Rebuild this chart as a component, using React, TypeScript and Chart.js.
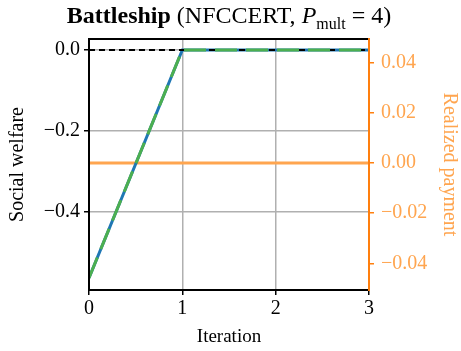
import React, { useEffect, useRef } from "react";
import { Chart, registerables } from "chart.js";

Chart.register(...registerables);

const iterations = [0, 1, 2, 3];
const socialWelfareBlue = [-0.563, 0, 0, 0];
const socialWelfareGreen = [-0.563, 0, 0, 0];
const optimumWelfare = [0, 0, 0, 0];
const realizedPayment = [0, 0, 0, 0];
const leftTicks = [-0.4, -0.2, 0.0];
const rightTicks = [-0.04, -0.02, 0.0, 0.02, 0.04];
const xTicks = [0, 1, 2, 3];

const FONT = "'Liberation Serif', 'DejaVu Serif', serif";
const ORANGE = "#ff7f0e";
const ORANGE_LIGHT = "#ffa54f";

const fmt = (v: number, d: number) => {
  const s = Math.abs(v).toFixed(d);
  return v < -1e-9 ? "\u2212" + s : s;
};

const framePlugin = {
  id: "frame",
  afterDatasetsDraw(chart: any) {
    const { ctx, chartArea } = chart;
    const { left, right, top, bottom } = chartArea;
    ctx.save();
    ctx.lineWidth = 2;
    ctx.strokeStyle = "#000";
    ctx.beginPath();
    ctx.moveTo(left, bottom);
    ctx.lineTo(left, top);
    ctx.lineTo(right, top);
    ctx.moveTo(left, bottom);
    ctx.lineTo(right, bottom);
    ctx.stroke();
    ctx.strokeStyle = ORANGE;
    ctx.beginPath();
    ctx.moveTo(right, top - 1);
    ctx.lineTo(right, bottom + 1);
    ctx.stroke();
    ctx.restore();
  },
};

export default function App() {
  const ref = useRef<HTMLCanvasElement>(null);
  useEffect(() => {
    const toPts = (ys: number[]) => iterations.map((x, i) => ({ x, y: ys[i] }));
    const chart = new Chart(ref.current!, {
      type: "line",
      data: {
        datasets: [
          {
            data: toPts(realizedPayment),
            yAxisID: "y1",
            borderColor: ORANGE_LIGHT,
            borderWidth: 3,
            pointRadius: 0,
            order: 4,
          },
          {
            data: toPts(socialWelfareBlue),
            yAxisID: "y",
            borderColor: "#1f77b4",
            borderWidth: 3,
            pointRadius: 0,
            order: 3,
          },
          {
            data: toPts(optimumWelfare),
            yAxisID: "y",
            borderColor: "#000",
            borderWidth: 2,
            borderDash: [6, 4],
            pointRadius: 0,
            order: 2,
          },
          {
            data: toPts(socialWelfareGreen),
            yAxisID: "y",
            borderColor: "#4caf50",
            borderWidth: 3,
            borderDash: [22, 9],
            pointRadius: 0,
            order: 1,
          },
        ],
      },
      options: {
        animation: false,
        responsive: false,
        layout: { padding: { top: 39, left: 0, right: 0, bottom: 0 } },
        plugins: { legend: { display: false }, tooltip: { enabled: false } },
        scales: {
          x: {
            type: "linear",
            min: 0,
            max: 3,
            afterBuildTicks: (s: any) => {
              s.ticks = xTicks.map((v) => ({ value: v }));
            },
            afterFit: (s: any) => {
              s.height = 61;
            },
            ticks: {
              color: "#000",
              font: { family: FONT, size: 20 },
              padding: 2,
              callback: (v: any) => String(v),
              maxRotation: 0,
            },
            grid: { color: "#b0b0b0", lineWidth: 1.5, tickLength: 5, tickColor: "#000" },
            border: { display: false },
            title: {
              display: true,
              text: "Iteration",
              color: "#000",
              font: { family: FONT, size: 19 },
              padding: { top: 0, bottom: 3 },
            },
          },
          y: {
            type: "linear",
            position: "left",
            min: -0.593,
            max: 0.027,
            afterBuildTicks: (s: any) => {
              s.ticks = leftTicks.map((v) => ({ value: v }));
            },
            afterFit: (s: any) => {
              s.width = 89;
            },
            ticks: {
              color: "#000",
              font: { family: FONT, size: 20 },
              padding: 4,
              callback: (v: any) => fmt(Number(v), 1),
            },
            grid: { color: "#b0b0b0", lineWidth: 1.5, tickLength: 5, tickColor: "#000" },
            border: { display: false },
            title: {
              display: true,
              text: "Social welfare",
              color: "#000",
              font: { family: FONT, size: 20 },
              padding: { top: 6, bottom: 0 },
            },
          },
          y1: {
            type: "linear",
            position: "right",
            min: -0.0506,
            max: 0.0494,
            afterBuildTicks: (s: any) => {
              s.ticks = rightTicks.map((v) => ({ value: v }));
            },
            afterFit: (s: any) => {
              s.width = 92;
            },
            ticks: {
              color: ORANGE_LIGHT,
              font: { family: FONT, size: 20 },
              padding: 7,
              callback: (v: any) => fmt(Number(v), 2),
            },
            grid: { drawOnChartArea: false, tickLength: 5, tickColor: ORANGE, lineWidth: 1.5 },
            border: { display: false },
            title: {
              display: true,
              text: "Realized payment",
              color: ORANGE_LIGHT,
              font: { family: FONT, size: 20 },
              padding: { top: 0, bottom: 0 },
            },
          },
        },
      },
      plugins: [framePlugin],
    } as any);
    return () => chart.destroy();
  }, []);

  return (
    <div style={{ position: "absolute", left: 0, top: 0, width: 461, height: 351, background: "#fff" }}>
      <canvas ref={ref} width={461} height={351} style={{ position: "absolute", left: 0, top: 0 }} />
      <div
        style={{
          position: "absolute",
          left: 0,
          top: 1,
          width: 458,
          textAlign: "center",
          fontFamily: FONT,
          fontSize: 24,
          lineHeight: "28px",
          color: "#000",
          whiteSpace: "nowrap",
        }}
      >
        <b>Battleship</b> (NFCCERT, <i>P</i>
        <sub style={{ fontSize: 16, lineHeight: 0 }}>mult</sub> = 4)
      </div>
    </div>
  );
}
